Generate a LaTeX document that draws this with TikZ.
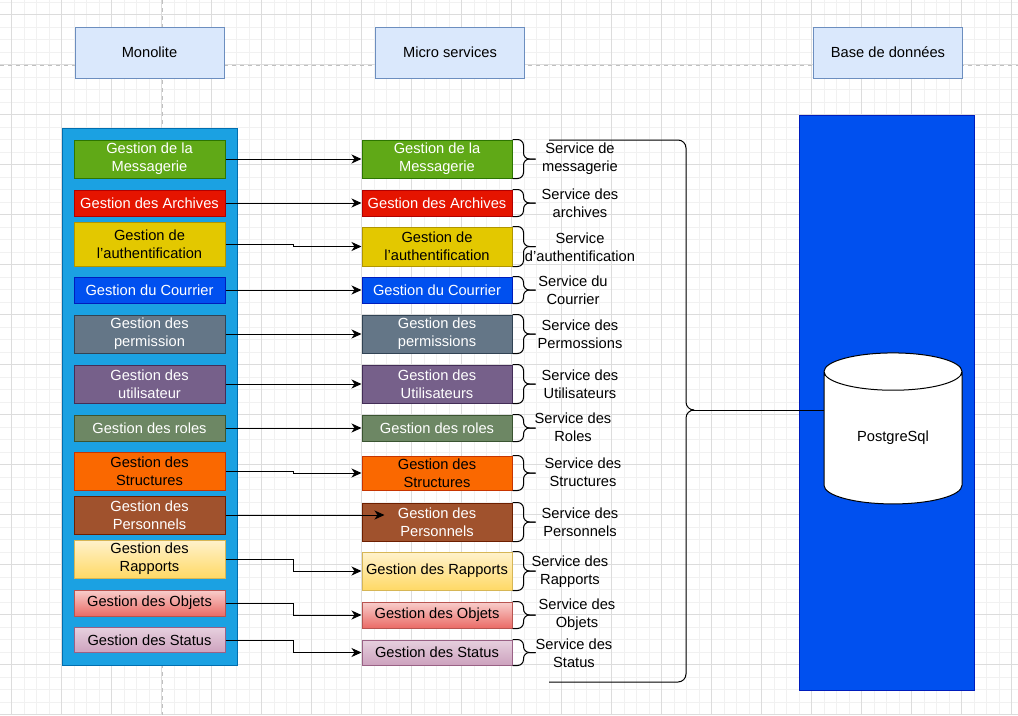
\documentclass[tikz,border=0pt]{standalone}
\usepackage{fontspec}
\setmainfont{Liberation Sans}
\usetikzlibrary{arrows.meta,calc,positioning,shapes.geometric}
\definecolor{headFill}{HTML}{DAE8FC}
\definecolor{headLine}{HTML}{6C8EBF}
\definecolor{monoFill}{HTML}{1BA1E2}
\definecolor{monoLine}{HTML}{006EAF}
\definecolor{msgFill}{HTML}{60A917}
\definecolor{msgLine}{HTML}{2D7600}
\definecolor{arcFill}{HTML}{E51400}
\definecolor{arcLine}{HTML}{B20000}
\definecolor{authFill}{HTML}{E3C800}
\definecolor{authLine}{HTML}{B09500}
\definecolor{courFill}{HTML}{0050EF}
\definecolor{courLine}{HTML}{001DBC}
\definecolor{permFill}{HTML}{647687}
\definecolor{permLine}{HTML}{314354}
\definecolor{userFill}{HTML}{76608A}
\definecolor{userLine}{HTML}{432D57}
\definecolor{roleFill}{HTML}{6D8764}
\definecolor{roleLine}{HTML}{3A5431}
\definecolor{strucFill}{HTML}{FA6800}
\definecolor{strucLine}{HTML}{C73500}
\definecolor{persFill}{HTML}{A0522D}
\definecolor{persLine}{HTML}{6D1F00}
\definecolor{rapTop}{HTML}{FFF2CC}
\definecolor{rapBot}{HTML}{FFD966}
\definecolor{rapLine}{HTML}{D6B656}
\definecolor{objTop}{HTML}{F8CECC}
\definecolor{objBot}{HTML}{EA6B66}
\definecolor{objLine}{HTML}{B85450}
\definecolor{statTop}{HTML}{E6D0DE}
\definecolor{statBot}{HTML}{CDA2BE}
\definecolor{statLine}{HTML}{996185}
\definecolor{gridMinor}{HTML}{F1F1F1}
\definecolor{gridMajor}{HTML}{DCDCDC}
\definecolor{guide}{HTML}{C0C0C0}
\tikzset{
        head/.style = {draw=headLine, fill=headFill, rectangle,
            minimum width=111.75pt, minimum height=38.25pt},
        mbox/.style = {draw, rectangle, line width=0.75pt, inner sep=0pt,
            align=center, minimum width=113.25pt},
        sbox/.style = {mbox, minimum width=112.5pt},
        tall/.style = {minimum height=28.5pt},
        flat/.style = {minimum height=19.5pt},
        slabel/.style = {align=center, inner sep=0pt},
        arrow/.style = {draw, line width=0.75pt,
            -{Stealth[length=7.5pt,width=6.75pt,inset=2.25pt]}},
        bline/.style = {draw, line width=0.75pt, rounded corners=4.5pt},
    }

\begin{document}
\begin{tikzpicture}[x=0.75pt, y=-0.75pt, font=\fontsize{11}{13.5}\selectfont]
    \useasboundingbox (0,0) rectangle (1018,715);
    \fill[white] (0,0) rectangle (1018,715);

    % canvas grid
    \foreach \gx in {-0.8,11.7,...,1020}
        \draw[gridMinor, line width=0.75pt] (\gx,0) -- (\gx,715);
    \foreach \gy in {2,14.5,...,716}
        \draw[gridMinor, line width=0.75pt] (0,\gy) -- (1018,\gy);
    \foreach \gx in {11.7,61.7,...,1020}
        \draw[gridMajor, line width=0.75pt] (\gx,0) -- (\gx,715);
    \foreach \gy in {14.5,64.5,...,716}
        \draw[gridMajor, line width=0.75pt] (0,\gy) -- (1018,\gy);
    \draw[guide, dashed, line width=0.75pt] (0,65) -- (1018,65);
    \draw[guide, dashed, line width=0.75pt] (162,0) -- (162,715);

    % zones
    \node[draw=monoLine, fill=monoFill, line width=0.75pt, minimum width=131.25pt,
        minimum height=402.75pt] (mono) at (149.5,396.5) {};
    \node[draw=courLine, fill=courFill, line width=0.75pt, minimum width=131.25pt,
        minimum height=431.25pt] (dbzone) at (886.5,402.5) {};

    \node[head] (hmono) at (149.5,52.5) {Monolite};
    \node[head] (hmicro) at (450,52.5) {Micro services};
    \node[head] (hbase) at (888,52.5) {Base de données};

    % monolithe
    \node[mbox, tall, draw=msgLine, fill=msgFill, text=white] (l1) at (149.5,159) {Gestion de la\\Messagerie};
    \node[mbox, flat, draw=arcLine, fill=arcFill, text=white] (l2) at (149.5,203) {Gestion des Archives};
    \node[mbox, minimum height=33pt, draw=authLine, fill=authFill] (l3) at (149.5,244) {Gestion de\\l'authentification};
    \node[mbox, flat, draw=courLine, fill=courFill, text=white] (l4) at (149.5,290) {Gestion du Courrier};
    \node[mbox, tall, draw=permLine, fill=permFill, text=white] (l5) at (149.5,334) {Gestion des\\permission};
    \node[mbox, tall, draw=userLine, fill=userFill, text=white] (l6) at (149.5,384) {Gestion des\\utilisateur};
    \node[mbox, flat, draw=roleLine, fill=roleFill, text=white] (l7) at (149.5,428) {Gestion des roles};
    \node[mbox, tall, draw=strucLine, fill=strucFill] (l8) at (149.5,471) {Gestion des\\Structures};
    \node[mbox, tall, draw=persLine, fill=persFill, text=white] (l9) at (149.5,515) {Gestion des\\Personnels};
    \node[mbox, tall, draw=rapLine, top color=rapTop, bottom color=rapBot] (l10) at (149.5,559) {Gestion des\\Rapports};
    \node[mbox, flat, draw=objLine, top color=objTop, bottom color=objBot] (l11) at (149.5,603) {Gestion des Objets};
    \node[mbox, minimum height=18.75pt, draw=statLine, top color=statTop, bottom color=statBot] (l12) at (149.5,640) {Gestion des Status};

    % micro services
    \node[sbox, tall, draw=msgLine, fill=msgFill, text=white] (m1) at (437,159) {Gestion de la\\Messagerie};
    \node[sbox, flat, draw=arcLine, fill=arcFill, text=white] (m2) at (437,203) {Gestion des Archives};
    \node[sbox, minimum height=29.25pt, draw=authLine, fill=authFill] (m3) at (437,246.5) {Gestion de\\l'authentification};
    \node[sbox, flat, draw=courLine, fill=courFill, text=white] (m4) at (437,290) {Gestion du Courrier};
    \node[sbox, tall, draw=permLine, fill=permFill, text=white] (m5) at (437,334) {Gestion des\\permissions};
    \node[sbox, tall, draw=userLine, fill=userFill, text=white] (m6) at (437,384) {Gestion des\\Utilisateurs};
    \node[sbox, flat, draw=roleLine, fill=roleFill, text=white] (m7) at (437,428) {Gestion des roles};
    \node[sbox, minimum height=25.5pt, draw=strucLine, fill=strucFill] (m8) at (437,473) {Gestion des\\Structures};
    \node[sbox, tall, draw=persLine, fill=persFill, text=white] (m9) at (437,522) {Gestion des\\Personnels};
    \node[sbox, tall, draw=rapLine, top color=rapTop, bottom color=rapBot] (m10) at (437,571) {Gestion des Rapports};
    \node[sbox, flat, draw=objLine, top color=objTop, bottom color=objBot] (m11) at (437,615) {Gestion des Objets};
    \node[sbox, minimum height=18.75pt, draw=statLine, top color=statTop, bottom color=statBot] (m12) at (437,652.5) {Gestion des Status};

    % arrows
    \foreach \i in {1,2,4,5,6,7}
        \draw[arrow] (l\i.east) -- (m\i.west);
    \foreach \i in {3,8,10,11,12}
        \draw[arrow] (l\i.east) -- ++(68,0) |- (m\i.west);
    \draw[arrow] (l9.east) -- ($(l9.east -| m9.west)+(23,0)$);

    % braces
    \foreach \i in {1,...,12} {
        \draw[bline] (m\i.north east) -| ($(m\i.east)+(11,0)$) -- ++(12,0);
        \draw[bline] (m\i.south east) -| ($(m\i.east)+(11,0)$) -- ++(12,0);
    }

    \node[slabel] (s1) at (580,159) {Service de\\messagerie};
    \node[slabel] (s2) at (580,203) {Service des\\archives};
    \node[slabel] (s3) at (580,247) {Service\\d'authentification};
    \node[slabel] (s4) at (573,290) {Service du\\Courrier};
    \node[slabel] (s5) at (580,334) {Service des\\Permossions};
    \node[slabel] (s6) at (580,384) {Service des\\Utilisateurs};
    \node[slabel] (s7) at (573,427) {Service des\\Roles};
    \node[slabel] (s8) at (583,472) {Service des\\Structures};
    \node[slabel] (s9) at (580,522) {Service des\\Personnels};
    \node[slabel] (s10) at (570,572) {Service des\\Rapports};
    \node[slabel] (s11) at (577,615) {Service des\\Objets};
    \node[slabel] (s12) at (574,653) {Service des\\Status};

    % base de donnees
    \node[cylinder, shape border rotate=90, draw, fill=white, line width=0.75pt,
        aspect=0.52, minimum width=103.5pt, minimum height=113.25pt,
        inner sep=0pt] (db) at (893,438) {PostgreSql};

    \coordinate (bt) at (549,140);
    \coordinate (bb) at (549,682);
    \coordinate (bm) at (686,410);
    \draw[bline, rounded corners=6pt] (bt) -| (bm) -- ++(7,0) coordinate (tip);
    \draw[bline, rounded corners=6pt] (bb) -| (bm) -- ++(7,0);
    \draw[line width=0.75pt] (tip) -- (tip -| db.west);
\end{tikzpicture}
\end{document}
